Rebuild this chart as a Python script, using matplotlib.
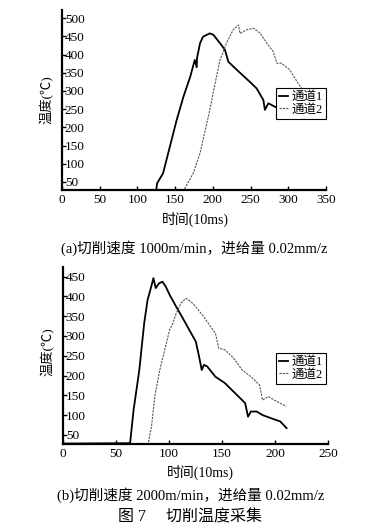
import numpy as np
import matplotlib
matplotlib.use("Agg")
import matplotlib.pyplot as plt

plt.rcParams['font.family'] = ['Liberation Serif', 'Noto Sans CJK SC', 'DejaVu Sans']

# (a) 1000 m/min
a_t1 = [0, 125, 126, 134, 143, 152, 161, 170, 176, 178.6, 179, 183, 187, 196, 200.7,
        209.5, 216, 220.6, 231.7, 249, 258, 267, 269, 273.6, 282, 290]
a_v1 = [28, 28, 46, 74, 147, 220, 284, 339, 385, 365, 390, 431, 449, 458, 454,
        431, 413, 380, 358, 325, 307, 275, 248, 266, 257, 250]
a_t2 = [0, 162, 163, 174, 183, 190, 196, 203, 209.5, 218, 227, 234, 236, 245, 254,
        263, 271.5, 280, 285, 291, 302, 313, 318, 325]
a_v2 = [28, 28, 33, 74, 129, 193, 248, 321, 385, 431, 468, 481, 458, 468, 472,
        458, 431, 408, 376, 376, 358, 321, 307, 290]

# (b) 2000 m/min
b_t1 = [0, 63.3, 66.6, 72, 76.6, 79.8, 82.9, 85.3, 87.5, 90.6, 93.8, 96.9, 100.6, 106.8,
        113, 119.2, 125.3, 128.4, 130.9, 133, 136, 143.8, 152.7, 161, 169, 171.9, 174.6,
        177.3, 182.8, 188.3, 196.5, 205, 211]
b_v1 = [28, 29, 113, 214, 332, 391, 421, 446, 421, 433, 437, 425, 404, 374,
        345, 315, 286, 248, 214, 227, 223, 197, 181, 159, 138, 130, 96,
        109, 109, 100, 92, 84, 67]
b_t2 = [0, 80.4, 83.5, 86.6, 91.3, 96, 100.6, 103.7, 106.8, 111.4, 116, 120.6, 125.3,
        131.5, 139.2, 143.8, 146.9, 152.7, 161, 169.1, 177.3, 185.5, 188.3, 193.7, 202, 210.8]
b_v2 = [28, 28, 71, 147, 214, 265, 315, 332, 357, 383, 395, 387, 374,
        353, 324, 307, 269, 265, 244, 214, 197, 176, 138, 147, 134, 122]

labels = ["通道1", "通道2"]

fig = plt.figure(figsize=(3.89, 5.30), dpi=100)


def setup(ax, xlim, ylim, xticks, yticks, leg_anchor, ylab_y, xlab_x):
    ax.set_xlim(*xlim)
    ax.set_ylim(*ylim)
    ax.set_xticks(xticks)
    ax.set_yticks(yticks)
    for s in ["top", "right"]:
        ax.spines[s].set_visible(False)
    for s in ["left", "bottom"]:
        ax.spines[s].set_linewidth(1.6)
    ax.tick_params(axis="both", direction="in", length=3, width=1, labelsize=9.5)
    ax.tick_params(axis="x", pad=3)
    ax.tick_params(axis="y", pad=-2)
    for lab in ax.get_yticklabels():
        lab.set_horizontalalignment("left")
    ax.set_ylabel("温度(℃)", fontsize=9.5)
    ax.yaxis.set_label_coords(-0.03, ylab_y)
    ax.set_xlabel("时间(10ms)", fontsize=10)
    ax.xaxis.set_label_coords(xlab_x, -0.12)
    leg = ax.legend(labels, loc="upper right", bbox_to_anchor=leg_anchor,
                    borderaxespad=0, fontsize=9, handlelength=0.7,
                    handletextpad=0.3, borderpad=0.25, labelspacing=0.05,
                    fancybox=False, framealpha=1, edgecolor="black")
    leg.get_frame().set_linewidth(0.8)


ax1 = fig.add_axes([0.1594, 0.6415, 0.6786, 0.3395])
ax1.plot(a_t1, a_v1, color="black", lw=1.3)
ax1.plot(a_t2, a_v2, color="#555555", lw=0.8, ls=(0, (2, 1)))
setup(ax1, (0, 350), (28, 522), range(0, 351, 50), range(50, 501, 50),
      (1.0, 0.567), 0.5, 0.504)

ax2 = fig.add_axes([0.162, 0.1623, 0.681, 0.3345])
ax2.plot(b_t1, b_v1, color="black", lw=1.3)
ax2.plot(b_t2, b_v2, color="#555555", lw=0.8, ls=(0, (2, 1)))
setup(ax2, (0, 250), (27, 475), range(0, 251, 50), range(50, 451, 50),
      (0.992, 0.513), 0.52, 0.517)

fig.text(0.499, 0.532, "(a)切削速度 1000m/min，进给量 0.02mm/z", ha="center", va="center", fontsize=10.5)
fig.text(0.489, 0.066, "(b)切削速度 2000m/min，进给量 0.02mm/z", ha="center", va="center", fontsize=10.5)
fig.text(0.489, 0.0245, "图 7     切削温度采集", ha="center", va="center", fontsize=11.5)

fig.savefig("out.png", dpi=100)
